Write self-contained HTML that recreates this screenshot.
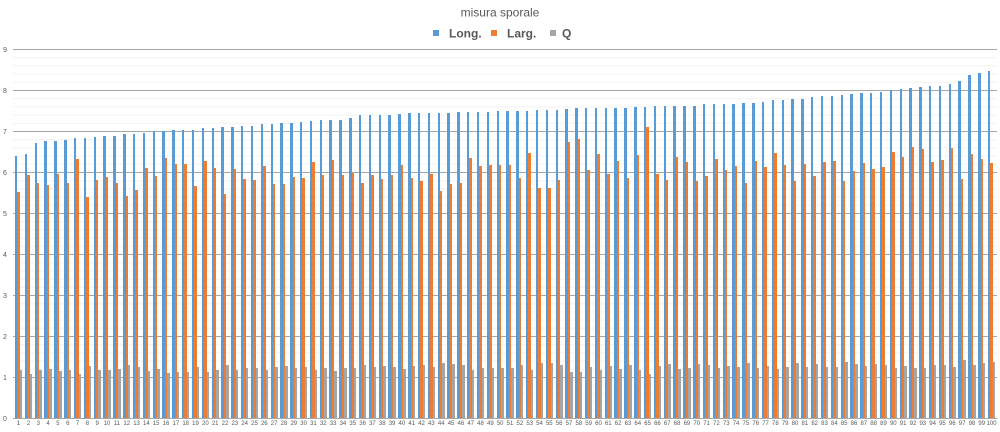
<!DOCTYPE html>
<html><head><meta charset="utf-8">
<style>
html,body{margin:0;padding:0;background:#fff;width:1000px;height:432px;overflow:hidden;font-family:"Liberation Sans",sans-serif}
#grid{position:absolute;left:0;top:0}
#plot{position:absolute;left:13.7px;top:49px;width:983.5px;height:369px;display:flex;align-items:flex-end}
.g{position:relative;flex:1 1 0;min-width:0;height:100%;display:flex;justify-content:center;align-items:flex-end}
.g>span{display:block;width:2.43px;flex:none}
.g>span:nth-child(1){background:#5b9bd5;height:calc(var(--l) * 41px)}
.g>span:nth-child(2){background:#ed7d31;height:calc(var(--w) * 41px)}
.g>span:nth-child(3){background:#a5a5a5;height:calc(var(--l) / var(--w) * 41px)}
.g>em{position:absolute;top:100%;left:-6px;right:-6px;margin-top:3px;text-align:center;font-style:normal;font-size:6px;line-height:7px;color:#595959}
</style></head><body>
<svg id="grid" width="1000" height="432" xmlns="http://www.w3.org/2000/svg">
<g stroke="#f2f2f2" stroke-width="1">
<line x1="13" x2="997" y1="57.7" y2="57.7"/><line x1="13" x2="997" y1="65.9" y2="65.9"/><line x1="13" x2="997" y1="74.1" y2="74.1"/><line x1="13" x2="997" y1="82.3" y2="82.3"/>
<line x1="13" x2="997" y1="98.7" y2="98.7"/><line x1="13" x2="997" y1="106.9" y2="106.9"/><line x1="13" x2="997" y1="115.1" y2="115.1"/><line x1="13" x2="997" y1="123.3" y2="123.3"/>
<line x1="13" x2="997" y1="139.7" y2="139.7"/><line x1="13" x2="997" y1="147.9" y2="147.9"/><line x1="13" x2="997" y1="156.1" y2="156.1"/><line x1="13" x2="997" y1="164.3" y2="164.3"/>
<line x1="13" x2="997" y1="180.7" y2="180.7"/><line x1="13" x2="997" y1="188.9" y2="188.9"/><line x1="13" x2="997" y1="197.1" y2="197.1"/><line x1="13" x2="997" y1="205.3" y2="205.3"/>
<line x1="13" x2="997" y1="221.7" y2="221.7"/><line x1="13" x2="997" y1="229.9" y2="229.9"/><line x1="13" x2="997" y1="238.1" y2="238.1"/><line x1="13" x2="997" y1="246.3" y2="246.3"/>
<line x1="13" x2="997" y1="262.7" y2="262.7"/><line x1="13" x2="997" y1="270.9" y2="270.9"/><line x1="13" x2="997" y1="279.1" y2="279.1"/><line x1="13" x2="997" y1="287.3" y2="287.3"/>
<line x1="13" x2="997" y1="303.7" y2="303.7"/><line x1="13" x2="997" y1="311.9" y2="311.9"/><line x1="13" x2="997" y1="320.1" y2="320.1"/><line x1="13" x2="997" y1="328.3" y2="328.3"/>
<line x1="13" x2="997" y1="344.7" y2="344.7"/><line x1="13" x2="997" y1="352.9" y2="352.9"/><line x1="13" x2="997" y1="361.1" y2="361.1"/><line x1="13" x2="997" y1="369.3" y2="369.3"/>
<line x1="13" x2="997" y1="385.7" y2="385.7"/><line x1="13" x2="997" y1="393.9" y2="393.9"/><line x1="13" x2="997" y1="402.1" y2="402.1"/><line x1="13" x2="997" y1="410.3" y2="410.3"/>
</g>
<g stroke="#a6a6a6" stroke-width="1">
<line x1="13" x2="997" y1="49.5" y2="49.5"/><line x1="13" x2="997" y1="90.5" y2="90.5"/><line x1="13" x2="997" y1="131.5" y2="131.5"/><line x1="13" x2="997" y1="172.5" y2="172.5"/><line x1="13" x2="997" y1="213.5" y2="213.5"/><line x1="13" x2="997" y1="254.5" y2="254.5"/><line x1="13" x2="997" y1="295.5" y2="295.5"/><line x1="13" x2="997" y1="336.5" y2="336.5"/><line x1="13" x2="997" y1="377.5" y2="377.5"/><line x1="13" x2="997" y1="418.5" y2="418.5"/>
</g>
<g font-family="Liberation Sans, sans-serif" font-size="7" fill="#595959" text-anchor="middle">
<text x="5" y="52">9</text><text x="5" y="93">8</text><text x="5" y="134">7</text><text x="5" y="175">6</text><text x="5" y="216">5</text><text x="5" y="257">4</text><text x="5" y="298">3</text><text x="5" y="339">2</text><text x="5" y="380">1</text><text x="5" y="421">0</text>
</g>
<text x="500" y="16.5" font-family="Liberation Sans, sans-serif" font-size="12" fill="#595959" text-anchor="middle">misura sporale</text>
<rect x="433" y="30" width="6" height="6" fill="#5b9bd5"/>
<text x="449" y="37.5" font-family="Liberation Sans, sans-serif" font-size="12" font-weight="bold" fill="#595959">Long.</text>
<rect x="491" y="30" width="6" height="6" fill="#ed7d31"/>
<text x="507" y="37.5" font-family="Liberation Sans, sans-serif" font-size="12" font-weight="bold" fill="#595959">Larg.</text>
<rect x="550" y="30" width="6" height="6" fill="#a5a5a5"/>
<text x="562" y="37.5" font-family="Liberation Sans, sans-serif" font-size="12" font-weight="bold" fill="#595959">Q</text>
</svg>
<div id="plot">
<div class="g" style="--l:6.39;--w:5.51"><span></span><span></span><span></span><em>1</em></div>
<div class="g" style="--l:6.43;--w:5.93"><span></span><span></span><span></span><em>2</em></div>
<div class="g" style="--l:6.71;--w:5.72"><span></span><span></span><span></span><em>3</em></div>
<div class="g" style="--l:6.76;--w:5.68"><span></span><span></span><span></span><em>4</em></div>
<div class="g" style="--l:6.76;--w:5.95"><span></span><span></span><span></span><em>5</em></div>
<div class="g" style="--l:6.78;--w:5.73"><span></span><span></span><span></span><em>6</em></div>
<div class="g" style="--l:6.83;--w:6.31"><span></span><span></span><span></span><em>7</em></div>
<div class="g" style="--l:6.83;--w:5.40"><span></span><span></span><span></span><em>8</em></div>
<div class="g" style="--l:6.85;--w:5.80"><span></span><span></span><span></span><em>9</em></div>
<div class="g" style="--l:6.88;--w:5.88"><span></span><span></span><span></span><em>10</em></div>
<div class="g" style="--l:6.88;--w:5.74"><span></span><span></span><span></span><em>11</em></div>
<div class="g" style="--l:6.93;--w:5.41"><span></span><span></span><span></span><em>12</em></div>
<div class="g" style="--l:6.93;--w:5.57"><span></span><span></span><span></span><em>13</em></div>
<div class="g" style="--l:6.95;--w:6.10"><span></span><span></span><span></span><em>14</em></div>
<div class="g" style="--l:7.00;--w:5.90"><span></span><span></span><span></span><em>15</em></div>
<div class="g" style="--l:7.00;--w:6.35"><span></span><span></span><span></span><em>16</em></div>
<div class="g" style="--l:7.02;--w:6.20"><span></span><span></span><span></span><em>17</em></div>
<div class="g" style="--l:7.03;--w:6.20"><span></span><span></span><span></span><em>18</em></div>
<div class="g" style="--l:7.03;--w:5.67"><span></span><span></span><span></span><em>19</em></div>
<div class="g" style="--l:7.08;--w:6.27"><span></span><span></span><span></span><em>20</em></div>
<div class="g" style="--l:7.08;--w:6.10"><span></span><span></span><span></span><em>21</em></div>
<div class="g" style="--l:7.10;--w:5.46"><span></span><span></span><span></span><em>22</em></div>
<div class="g" style="--l:7.10;--w:6.07"><span></span><span></span><span></span><em>23</em></div>
<div class="g" style="--l:7.13;--w:5.83"><span></span><span></span><span></span><em>24</em></div>
<div class="g" style="--l:7.13;--w:5.80"><span></span><span></span><span></span><em>25</em></div>
<div class="g" style="--l:7.17;--w:6.15"><span></span><span></span><span></span><em>26</em></div>
<div class="g" style="--l:7.17;--w:5.71"><span></span><span></span><span></span><em>27</em></div>
<div class="g" style="--l:7.19;--w:5.71"><span></span><span></span><span></span><em>28</em></div>
<div class="g" style="--l:7.20;--w:5.87"><span></span><span></span><span></span><em>29</em></div>
<div class="g" style="--l:7.21;--w:5.85"><span></span><span></span><span></span><em>30</em></div>
<div class="g" style="--l:7.24;--w:6.24"><span></span><span></span><span></span><em>31</em></div>
<div class="g" style="--l:7.26;--w:5.93"><span></span><span></span><span></span><em>32</em></div>
<div class="g" style="--l:7.27;--w:6.29"><span></span><span></span><span></span><em>33</em></div>
<div class="g" style="--l:7.28;--w:5.92"><span></span><span></span><span></span><em>34</em></div>
<div class="g" style="--l:7.31;--w:5.98"><span></span><span></span><span></span><em>35</em></div>
<div class="g" style="--l:7.39;--w:5.74"><span></span><span></span><span></span><em>36</em></div>
<div class="g" style="--l:7.39;--w:5.92"><span></span><span></span><span></span><em>37</em></div>
<div class="g" style="--l:7.40;--w:5.83"><span></span><span></span><span></span><em>38</em></div>
<div class="g" style="--l:7.40;--w:5.92"><span></span><span></span><span></span><em>39</em></div>
<div class="g" style="--l:7.41;--w:6.17"><span></span><span></span><span></span><em>40</em></div>
<div class="g" style="--l:7.43;--w:5.85"><span></span><span></span><span></span><em>41</em></div>
<div class="g" style="--l:7.43;--w:5.79"><span></span><span></span><span></span><em>42</em></div>
<div class="g" style="--l:7.43;--w:5.94"><span></span><span></span><span></span><em>43</em></div>
<div class="g" style="--l:7.43;--w:5.54"><span></span><span></span><span></span><em>44</em></div>
<div class="g" style="--l:7.44;--w:5.70"><span></span><span></span><span></span><em>45</em></div>
<div class="g" style="--l:7.46;--w:5.74"><span></span><span></span><span></span><em>46</em></div>
<div class="g" style="--l:7.46;--w:6.33"><span></span><span></span><span></span><em>47</em></div>
<div class="g" style="--l:7.46;--w:6.15"><span></span><span></span><span></span><em>48</em></div>
<div class="g" style="--l:7.47;--w:6.17"><span></span><span></span><span></span><em>49</em></div>
<div class="g" style="--l:7.48;--w:6.16"><span></span><span></span><span></span><em>50</em></div>
<div class="g" style="--l:7.50;--w:6.16"><span></span><span></span><span></span><em>51</em></div>
<div class="g" style="--l:7.50;--w:5.85"><span></span><span></span><span></span><em>52</em></div>
<div class="g" style="--l:7.50;--w:6.47"><span></span><span></span><span></span><em>53</em></div>
<div class="g" style="--l:7.51;--w:5.61"><span></span><span></span><span></span><em>54</em></div>
<div class="g" style="--l:7.51;--w:5.61"><span></span><span></span><span></span><em>55</em></div>
<div class="g" style="--l:7.52;--w:5.81"><span></span><span></span><span></span><em>56</em></div>
<div class="g" style="--l:7.54;--w:6.72"><span></span><span></span><span></span><em>57</em></div>
<div class="g" style="--l:7.55;--w:6.80"><span></span><span></span><span></span><em>58</em></div>
<div class="g" style="--l:7.56;--w:6.05"><span></span><span></span><span></span><em>59</em></div>
<div class="g" style="--l:7.57;--w:6.45"><span></span><span></span><span></span><em>60</em></div>
<div class="g" style="--l:7.57;--w:5.95"><span></span><span></span><span></span><em>61</em></div>
<div class="g" style="--l:7.57;--w:6.28"><span></span><span></span><span></span><em>62</em></div>
<div class="g" style="--l:7.57;--w:5.85"><span></span><span></span><span></span><em>63</em></div>
<div class="g" style="--l:7.59;--w:6.42"><span></span><span></span><span></span><em>64</em></div>
<div class="g" style="--l:7.59;--w:7.11"><span></span><span></span><span></span><em>65</em></div>
<div class="g" style="--l:7.60;--w:5.94"><span></span><span></span><span></span><em>66</em></div>
<div class="g" style="--l:7.60;--w:5.80"><span></span><span></span><span></span><em>67</em></div>
<div class="g" style="--l:7.61;--w:6.37"><span></span><span></span><span></span><em>68</em></div>
<div class="g" style="--l:7.62;--w:6.24"><span></span><span></span><span></span><em>69</em></div>
<div class="g" style="--l:7.62;--w:5.77"><span></span><span></span><span></span><em>70</em></div>
<div class="g" style="--l:7.65;--w:5.90"><span></span><span></span><span></span><em>71</em></div>
<div class="g" style="--l:7.67;--w:6.32"><span></span><span></span><span></span><em>72</em></div>
<div class="g" style="--l:7.67;--w:6.06"><span></span><span></span><span></span><em>73</em></div>
<div class="g" style="--l:7.67;--w:6.15"><span></span><span></span><span></span><em>74</em></div>
<div class="g" style="--l:7.68;--w:5.73"><span></span><span></span><span></span><em>75</em></div>
<div class="g" style="--l:7.69;--w:6.27"><span></span><span></span><span></span><em>76</em></div>
<div class="g" style="--l:7.70;--w:6.12"><span></span><span></span><span></span><em>77</em></div>
<div class="g" style="--l:7.76;--w:6.46"><span></span><span></span><span></span><em>78</em></div>
<div class="g" style="--l:7.76;--w:6.18"><span></span><span></span><span></span><em>79</em></div>
<div class="g" style="--l:7.79;--w:5.77"><span></span><span></span><span></span><em>80</em></div>
<div class="g" style="--l:7.79;--w:6.20"><span></span><span></span><span></span><em>81</em></div>
<div class="g" style="--l:7.84;--w:5.91"><span></span><span></span><span></span><em>82</em></div>
<div class="g" style="--l:7.85;--w:6.25"><span></span><span></span><span></span><em>83</em></div>
<div class="g" style="--l:7.85;--w:6.26"><span></span><span></span><span></span><em>84</em></div>
<div class="g" style="--l:7.88;--w:5.79"><span></span><span></span><span></span><em>85</em></div>
<div class="g" style="--l:7.90;--w:6.02"><span></span><span></span><span></span><em>86</em></div>
<div class="g" style="--l:7.93;--w:6.22"><span></span><span></span><span></span><em>87</em></div>
<div class="g" style="--l:7.93;--w:6.07"><span></span><span></span><span></span><em>88</em></div>
<div class="g" style="--l:7.96;--w:6.12"><span></span><span></span><span></span><em>89</em></div>
<div class="g" style="--l:8.00;--w:6.50"><span></span><span></span><span></span><em>90</em></div>
<div class="g" style="--l:8.02;--w:6.37"><span></span><span></span><span></span><em>91</em></div>
<div class="g" style="--l:8.05;--w:6.61"><span></span><span></span><span></span><em>92</em></div>
<div class="g" style="--l:8.07;--w:6.56"><span></span><span></span><span></span><em>93</em></div>
<div class="g" style="--l:8.09;--w:6.25"><span></span><span></span><span></span><em>94</em></div>
<div class="g" style="--l:8.11;--w:6.29"><span></span><span></span><span></span><em>95</em></div>
<div class="g" style="--l:8.14;--w:6.59"><span></span><span></span><span></span><em>96</em></div>
<div class="g" style="--l:8.23;--w:5.84"><span></span><span></span><span></span><em>97</em></div>
<div class="g" style="--l:8.37;--w:6.44"><span></span><span></span><span></span><em>98</em></div>
<div class="g" style="--l:8.41;--w:6.31"><span></span><span></span><span></span><em>99</em></div>
<div class="g" style="--l:8.47;--w:6.22"><span></span><span></span><span></span><em>100</em></div>
</div>
</body></html>
